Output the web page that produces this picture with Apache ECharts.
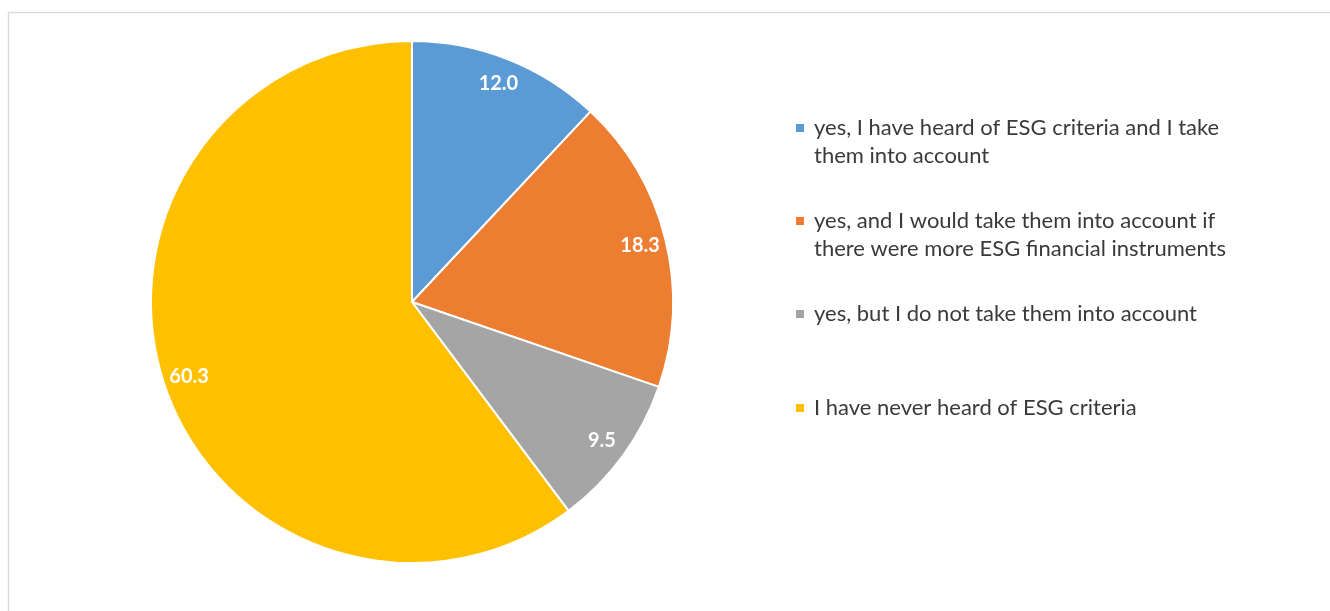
<!DOCTYPE html>
<html>
<head>
<meta charset="utf-8">
<script src="https://cdn.jsdelivr.net/npm/echarts@6/dist/echarts.min.js"></script>
<style>
  html, body { margin: 0; padding: 0; background: #fff; }
  #chart { width: 1330px; height: 611px; }
</style>
</head>
<body>
<div id="chart"></div>
<script>
// Survey answers: awareness of ESG criteria (percent of respondents)
const categories = [
  'yes, I have heard of ESG criteria and I take\nthem into account',
  'yes, and I would take them into account if\nthere were more ESG financial instruments',
  'yes, but I do not take them into account',
  'I have never heard of ESG criteria'
];
const shares = [12.0, 18.3, 9.5, 60.3];
const colors = ['#5B9BD5', '#ED7D31', '#A5A5A5', '#FFC000'];

const FONT = 'Lato, "Open Sans", sans-serif';
const center = [412, 302];
const R = 261;

const pieData = categories.map((name, i) => ({
  name: name,
  value: shares[i],
  itemStyle: { color: colors[i] }
}));

// rich styles: a coloured square per entry, a gap, an indent for wrapped lines
const rich = {
  t: { fontFamily: FONT, fontSize: 22, color: '#3a3a3a', lineHeight: 28 },
  gap: { width: 10 },
  ind: { width: 18 }
};
colors.forEach((c, i) => {
  rich['sq' + i] = { width: 8, height: 8, backgroundColor: c };
});

const legendTops = [117, 210, 303, 397];
const legends = categories.map((name, i) => ({
  data: [name],
  orient: 'vertical',
  left: 795,
  top: legendTops[i],
  padding: 0,
  icon: 'rect',
  itemWidth: 0,
  itemHeight: 0,
  selectedMode: false,
  textStyle: { rich: rich, padding: [0, 0, 0, -5] },
  formatter: n => {
    const idx = categories.indexOf(n);
    return n.split('\n').map((line, k) =>
      (k === 0 ? '{sq' + idx + '|}{gap|}' : '{ind|}') + '{t|' + line + '}'
    ).join('\n');
  }
}));

const chart = echarts.init(document.getElementById('chart'), null, { renderer: 'canvas' });
chart.setOption({
  animation: false,
  backgroundColor: '#ffffff',
  graphic: [{
    type: 'rect',
    shape: { x: 8.5, y: 12.5, width: 1400, height: 700 },
    style: { fill: 'none', stroke: '#d9d9d9', lineWidth: 1.5 },
    silent: true,
    z: -10
  }],
  legend: legends,
  series: [
    {
      type: 'pie',
      center: center,
      radius: [0, R],
      startAngle: 90,
      clockwise: true,
      data: pieData,
      label: { show: false },
      labelLine: { show: false },
      itemStyle: { borderColor: '#ffffff', borderWidth: 2 },
      emphasis: { disabled: true }
    },
    {
      // value labels, placed on a ring near the outer edge
      type: 'pie',
      center: center,
      radius: [203, R],
      startAngle: 90,
      clockwise: true,
      silent: true,
      legendHoverLink: false,
      data: categories.map((name, i) => ({ name: name, value: shares[i] })),
      itemStyle: { color: 'rgba(0,0,0,0)', borderWidth: 0 },
      label: {
        show: true,
        position: 'inside',
        formatter: p => p.value.toFixed(1),
        color: '#ffffff',
        fontFamily: FONT,
        fontWeight: 'bold',
        fontSize: 20
      },
      labelLine: { show: false },
      emphasis: { disabled: true },
      z: 3
    }
  ]
});
</script>
</body>
</html>
